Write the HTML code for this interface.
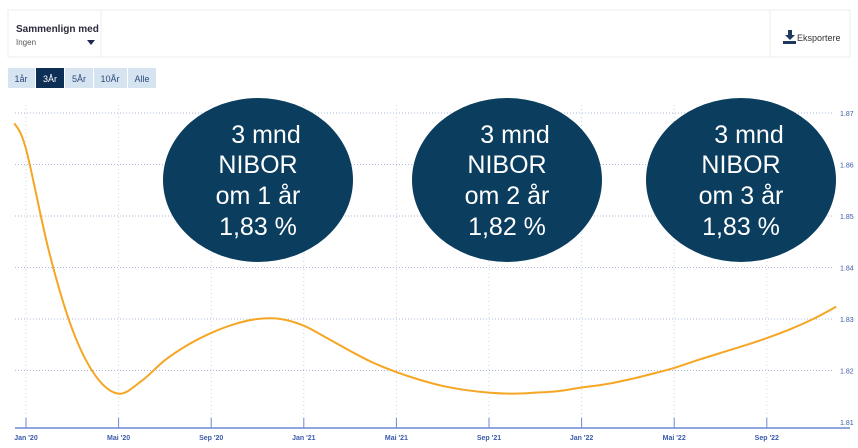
<!DOCTYPE html>
<html><head><meta charset="utf-8"><style>
body{margin:0;background:#fff;font-family:"Liberation Sans",sans-serif;}
#wrap{position:relative;width:858px;height:448px;overflow:hidden;background:#fff}
</style></head><body>
<div id="wrap">
<svg width="858" height="448" xmlns="http://www.w3.org/2000/svg" id="svg">
  <rect x="8" y="10" width="842" height="47" fill="#fff" stroke="#ececec"/>
  <line x1="101" y1="10" x2="101" y2="57" stroke="#ececec"/>
  <line x1="770" y1="10" x2="770" y2="57" stroke="#ececec"/>
  <g>
    <text x="16" y="32" font-size="10" font-weight="bold" fill="#2b2b3b">Sammenlign med</text>
    <text x="16" y="45" font-size="8" fill="#555">Ingen</text>
    <path d="M87 40 L95 40 L91 45 Z" fill="#1d2b4a"/>
  </g>
  <g>
    <path d="M788 30 h4 v5 h3 l-5 5 l-5 -5 h3 z M783 41 h13 v3 h-13 z" fill="#1d3a5c"/>
    <text x="797" y="41" font-size="9" fill="#333">Eksportere</text>
  </g>
  <g>
    <rect x="8" y="68" width="27" height="20" fill="#d6e3f0"/>
    <text x="21" y="82" font-size="9" fill="#2c4a78" text-anchor="middle">1år</text>
    <rect x="36" y="68" width="28" height="20" fill="#0d2f55"/>
    <text x="50" y="82" font-size="9" fill="#fff" text-anchor="middle">3År</text>
    <rect x="65" y="68" width="28" height="20" fill="#d6e3f0"/>
    <text x="79" y="82" font-size="9" fill="#2c4a78" text-anchor="middle">5År</text>
    <rect x="94" y="68" width="33" height="20" fill="#d6e3f0"/>
    <text x="110" y="82" font-size="9" fill="#2c4a78" text-anchor="middle">10År</text>
    <rect x="128" y="68" width="28" height="20" fill="#d6e3f0"/>
    <text x="142" y="82" font-size="9" fill="#2c4a78" text-anchor="middle">Alle</text>
  </g>
  <g id="grid"></g>
  <g id="series"></g>
  <g id="axes"></g>
  <g id="bubbles"></g>
</svg>
</div>
<script>
const monthOffsets=[-0.5,0,1,2,3,4,5,6,7,8,9,10,11,12,13,14,15,16,17,18,19,20,21,22,23,24,25,26,27,28,29,30,31,32,33,34,35];
const rates=[1.868,1.863,1.843,1.828,1.819,1.8155,1.818,1.822,1.825,1.8273,1.829,1.830,1.830,1.8287,1.8263,1.8238,1.8215,1.8197,1.8182,1.817,1.8162,1.8157,1.8155,1.8157,1.816,1.8167,1.8173,1.8182,1.8193,1.8205,1.822,1.8234,1.8248,1.8263,1.828,1.830,1.8324];
const yTicks=[1.81,1.82,1.83,1.84,1.85,1.86,1.87];
const yTickLabels=["1.81","1.82","1.83","1.84","1.85","1.86","1.87"];
const xTickMonths=[0,4,8,12,16,20,24,28,32];
const xTickLabels=["Jan '20","Mai '20","Sep '20","Jan '21","Mai '21","Sep '21","Jan '22","Mai '22","Sep '22"];
const bubbleLabels=[["3 mnd","NIBOR","om 1 år","1,83 %"],["3 mnd","NIBOR","om 2 år","1,82 %"],["3 mnd","NIBOR","om 3 år","1,83 %"]];
const bubbleCenters=[258,507,741];

const NS="http://www.w3.org/2000/svg";
const xs=m=>26+m*23.15;
const ys=v=>422-(v-1.81)/0.01*51.5;
function mk(tag,attrs,parent){const e=document.createElementNS(NS,tag);for(const k in attrs)e.setAttribute(k,attrs[k]);parent.appendChild(e);return e;}
const grid=document.getElementById('grid'),axes=document.getElementById('axes'),series=document.getElementById('series'),bub=document.getElementById('bubbles');
yTicks.forEach((t,i)=>{
  const y=ys(t);
  if(i>0){const l=mk('line',{x1:15,x2:832,y1:y,y2:y,stroke:'#aab8d8','stroke-dasharray':'1,2'},grid);
  
  }
  const tx=mk('text',{x:840,y:y+3,'font-size':7,fill:'#3a5aa8'},axes);tx.textContent=yTickLabels[i];
  
  
});
xTickMonths.forEach((m,i)=>{
  const x=xs(m);
  mk('line',{x1:x,x2:x,y1:105,y2:418,stroke:'#c8d0e0','stroke-dasharray':'1,3'},grid);
  mk('line',{x1:x,x2:x,y1:418,y2:428,stroke:'#6a8ad0'},axes);
  const tx=mk('text',{x:x,y:440,'font-size':7,fill:'#3a5aa8','text-anchor':'middle','font-weight':'bold'},axes);tx.textContent=xTickLabels[i];
  
  
});
const ax=mk('line',{x1:15,x2:850,y1:428,y2:428,stroke:'#6a8ad0','stroke-width':1.5},axes);


// smooth path via catmull-rom
const pts=monthOffsets.map((m,i)=>[xs(m),ys(rates[i])]);
let d=`M${pts[0][0]},${pts[0][1]}`;
for(let i=0;i<pts.length-1;i++){
  const p0=pts[i-1]||pts[i],p1=pts[i],p2=pts[i+1],p3=pts[i+2]||p2;
  d+=` C${p1[0]+(p2[0]-p0[0])/6},${p1[1]+(p2[1]-p0[1])/6} ${p2[0]-(p3[0]-p1[0])/6},${p2[1]-(p3[1]-p1[1])/6} ${p2[0]},${p2[1]}`;
}
const line=mk('path',{d:d,fill:'none',stroke:'#f5a623','stroke-width':2},series);


bubbleLabels.forEach((lines,i)=>{
  const g=mk('g',{},bub);
  
  
  mk('ellipse',{cx:bubbleCenters[i],cy:180,rx:95,ry:82,fill:'#0b3d5e'},g);
  const ys2=[143,173,204,235];
  lines.forEach((t,j)=>{
    const tx=mk('text',{x:bubbleCenters[i]+(j==0?8:0),y:ys2[j],'font-size':25,fill:'#fff','text-anchor':'middle'},g);
    tx.textContent=t;
  });
});
</script>
</body></html>
